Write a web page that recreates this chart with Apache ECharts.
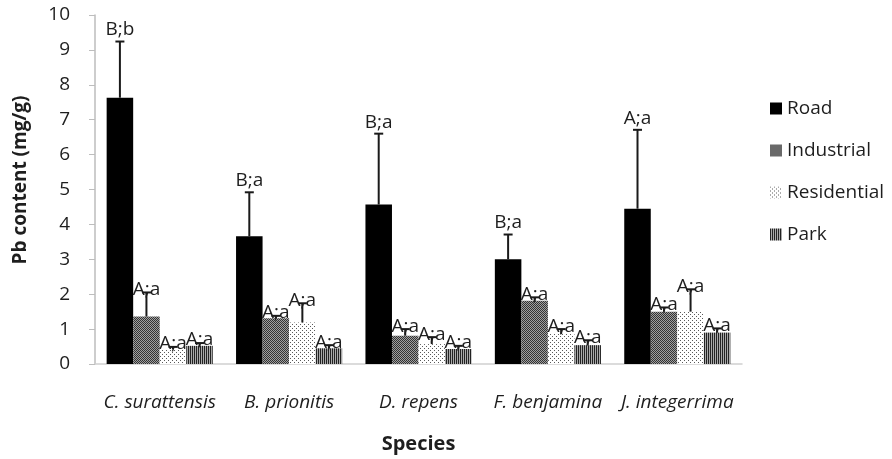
<!DOCTYPE html>
<html>
<head>
<meta charset="utf-8">
<script src="https://cdn.jsdelivr.net/npm/echarts@6/dist/echarts.min.js"></script>
<style>
html,body{margin:0;padding:0;background:#fff;}
#c{width:892px;height:459px;}
</style>
</head>
<body>
<div id="c"></div>
<script>
const categories = ['C. surattensis', 'B. prionitis', 'D. repens', 'F. benjamina', 'J. integerrima'];
const seriesNames = ['Road', 'Industrial', 'Residential', 'Park'];
const road = [7.63, 3.66, 4.57, 3.00, 4.45];
const industrial = [1.36, 1.31, 0.81, 1.81, 1.50];
const residential = [0.43, 1.19, 0.57, 0.86, 1.50];
const park = [0.52, 0.45, 0.43, 0.54, 0.90];
const roadErr = [1.61, 1.26, 2.03, 0.71, 2.26];
const industrialErr = [0.69, 0.07, 0.19, 0.10, 0.12];
const residentialErr = [0.06, 0.55, 0.20, 0.14, 0.64];
const parkErr = [0.08, 0.09, 0.09, 0.14, 0.12];
const roadLabels = ['B;b', 'B;a', 'B;a', 'B;a', 'A;a'];
const industrialLabels = ['A;a', 'A;a', 'A;a', 'A;a', 'A;a'];
const residentialLabels = ['A;a', 'A;a', 'A;a', 'A;a', 'A;a'];
const parkLabels = ['A;a', 'A;a', 'A;a', 'A;a', 'A;a'];
const yTicks = [0, 1, 2, 3, 4, 5, 6, 7, 8, 9, 10];
const yTitle = 'Pb content (mg/g)';
const xTitle = 'Species';

const values = [road, industrial, residential, park];
const errs = [roadErr, industrialErr, residentialErr, parkErr];
const labels = [roadLabels, industrialLabels, residentialLabels, parkLabels];

function pattern(w, h, draw) {
  const cv = document.createElement('canvas');
  cv.width = w; cv.height = h;
  const ctx = cv.getContext('2d');
  draw(ctx);
  return { image: cv, repeat: 'repeat' };
}
const fills = [
  '#000000',
  pattern(4, 4, ctx => {
    ctx.fillStyle = '#a0a0a0'; ctx.fillRect(0, 0, 4, 4);
    ctx.fillStyle = '#333333';
    for (let i = 0; i < 4; i++) { ctx.fillRect(i, i, 1, 1); ctx.fillRect((i + 2) % 4, i, 1, 1); }
  }),
  pattern(4, 4, ctx => {
    ctx.fillStyle = '#ffffff'; ctx.fillRect(0, 0, 4, 4);
    ctx.fillStyle = '#5a5a5a';
    ctx.fillRect(0, 0, 1, 1); ctx.fillRect(2, 2, 1, 1);
  }),
  pattern(2, 2, ctx => {
    ctx.fillStyle = '#a8a8a8'; ctx.fillRect(0, 0, 2, 2);
    ctx.fillStyle = '#222222'; ctx.fillRect(0, 0, 1, 2);
  })
];

const CAT_GAP = 0.18;
const FONT = '"Open Sans", "Noto Sans", sans-serif';

const barSeries = seriesNames.map((n, si) => ({
  type: 'bar',
  name: n,
  data: values[si],
  barGap: '0%',
  barCategoryGap: (CAT_GAP * 100) + '%',
  itemStyle: { color: fills[si] },
  emphasis: { disabled: true },
  z: 2
}));

const errSeries = seriesNames.map((n, si) => ({
  type: 'custom',
  name: n + '_err',
  silent: true,
  z: 10,
  encode: { x: 0, y: 1 },
  data: categories.map((c, i) => [i, values[si][i], values[si][i] + errs[si][i]]),
  renderItem: function (params, api) {
    const i = api.value(0);
    const base = api.coord([i, api.value(1)]);
    const top = api.coord([i, api.value(2)]);
    const band = api.size([1, 0])[0];
    const bw = band * (1 - CAT_GAP) / 4;
    const cx = base[0] + (si - 1.5) * bw;
    const txt = labels[si][params.dataIndex];
    const isRoad = si === 0;
    return {
      type: 'group',
      children: [
        { type: 'line', shape: { x1: cx, y1: base[1], x2: cx, y2: top[1] }, style: { stroke: '#1a1a1a', lineWidth: 2 } },
        { type: 'line', shape: { x1: cx - 4.5, y1: top[1], x2: cx + 4.5, y2: top[1] }, style: { stroke: '#1a1a1a', lineWidth: 2 } },
        {
          type: 'text',
          x: cx, y: isRoad ? top[1] - 2 : top[1] - 3,
          style: {
            text: txt, fill: '#1e1e1e', font: '19px ' + FONT,
            align: 'center', verticalAlign: isRoad ? 'bottom' : 'middle'
          }
        }
      ]
    };
  }
}));

const chart = echarts.init(document.getElementById('c'), null, { renderer: 'canvas' });
chart.setOption({
  animation: false,
  backgroundColor: '#ffffff',
  textStyle: { fontFamily: FONT },
  grid: { left: 95, right: 150, top: 15, bottom: 94, containLabel: false },
  graphic: [{
    type: 'text',
    x: 21, y: 180,
    rotation: Math.PI / 2,
    style: {
      text: yTitle, fill: '#1e1e1e', font: 'bold 19px ' + FONT,
      align: 'center', verticalAlign: 'middle'
    }
  }],
  legend: {
    data: seriesNames,
    orient: 'vertical',
    left: 770,
    top: 99,
    padding: 0,
    itemWidth: 12,
    itemHeight: 12,
    itemGap: 23,
    icon: 'rect',
    textStyle: { fontSize: 19, color: '#1e1e1e', fontFamily: FONT, padding: [0, 0, 0, 0], lineHeight: 19 },
    selectedMode: false
  },
  xAxis: {
    type: 'category',
    data: categories,
    axisLine: { show: true, lineStyle: { color: '#d0d0d0', width: 1.5 } },
    axisTick: { show: false },
    axisLabel: { fontSize: 19, fontStyle: 'italic', color: '#1e1e1e', margin: 29, fontFamily: FONT, interval: 0 },
    name: xTitle,
    nameLocation: 'middle',
    nameGap: 70,
    nameTextStyle: { fontSize: 20, fontWeight: 'bold', color: '#1e1e1e', fontFamily: FONT }
  },
  yAxis: {
    type: 'value',
    min: yTicks[0],
    max: yTicks[yTicks.length - 1],
    interval: 1,
    splitLine: { show: false },
    axisLine: { show: true, lineStyle: { color: '#bdbdbd', width: 1.5 } },
    axisTick: { show: true, length: 6, lineStyle: { color: '#bdbdbd' } },
    axisLabel: { fontSize: 19, color: '#1e1e1e', margin: 25, fontFamily: FONT }
  },
  series: barSeries.concat(errSeries)
});
</script>
</body>
</html>
